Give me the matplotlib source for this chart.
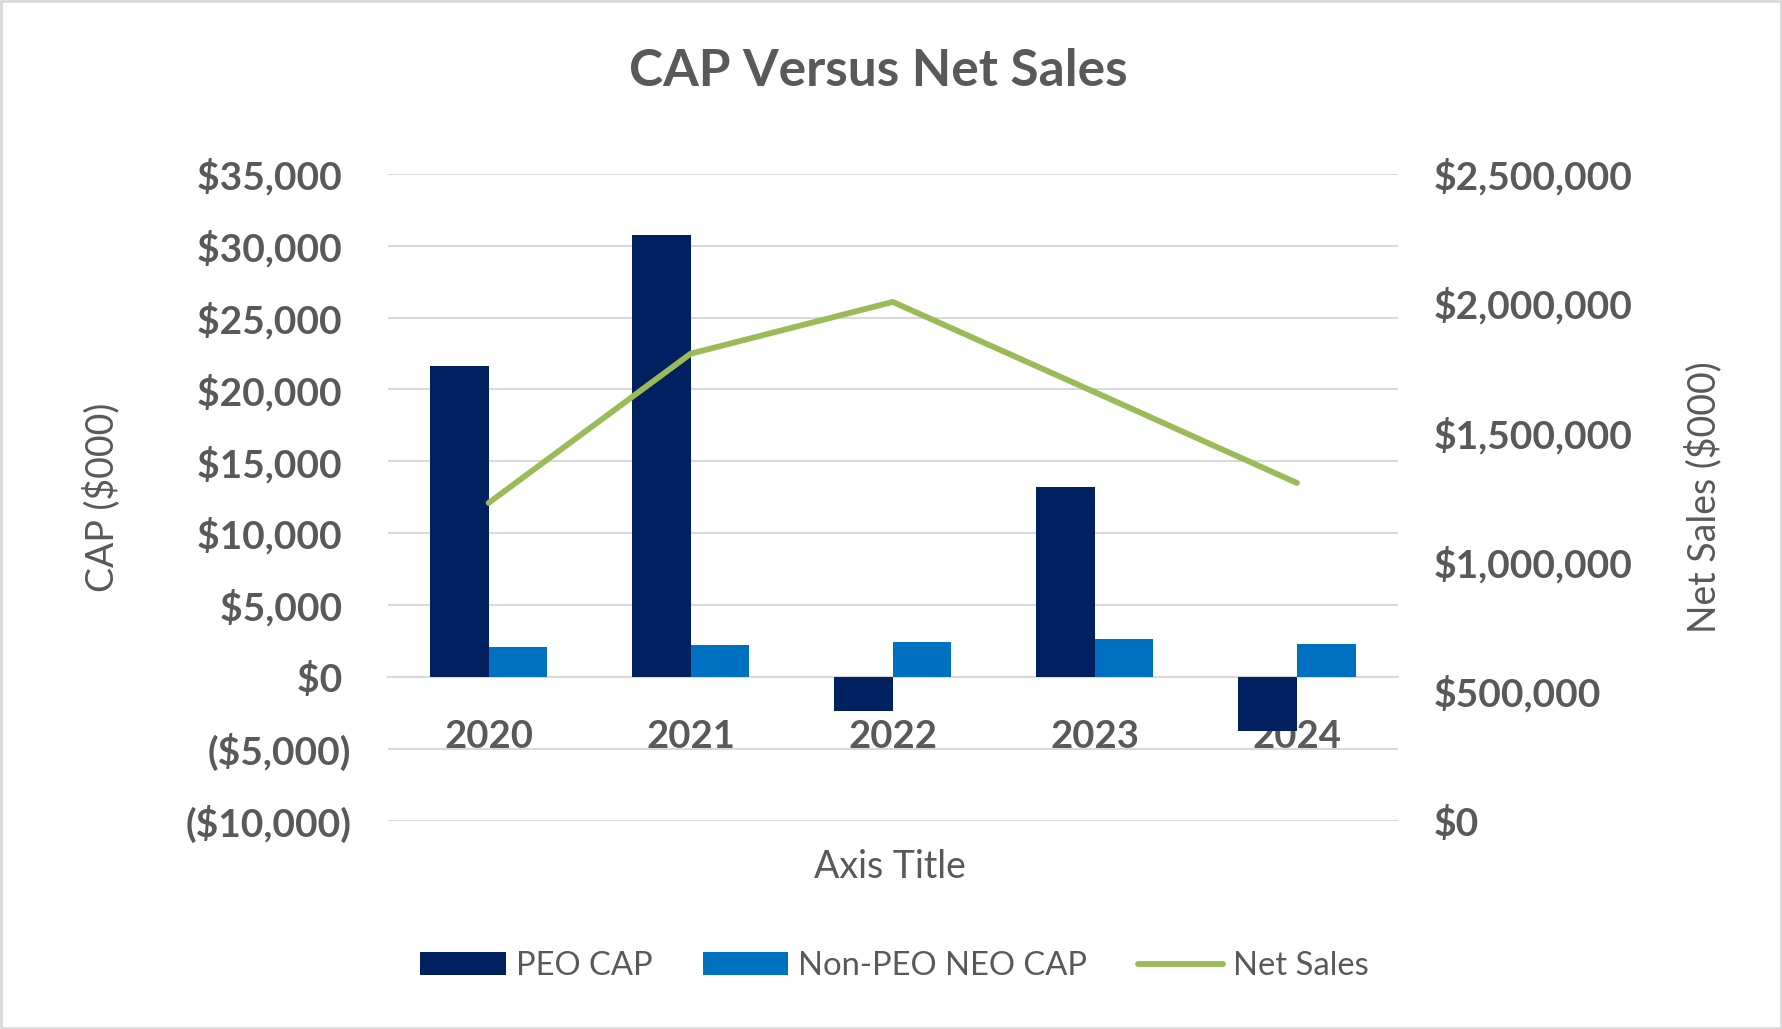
import numpy as np
import matplotlib.pyplot as plt
from matplotlib.patches import Rectangle
from matplotlib.ticker import FuncFormatter

# chart values ($000)
years = ['2020', '2021', '2022', '2023', '2024']
peo_cap = [21630, 30740, -2370, 13220, -3800]
non_peo_cap = [2080, 2210, 2440, 2650, 2300]
net_sales = [1228000, 1805000, 2005000, 1656000, 1305000]

left_ticks = [-10000, -5000, 0, 5000, 10000, 15000, 20000, 25000, 30000, 35000]
right_ticks = [0, 500000, 1000000, 1500000, 2000000, 2500000]

navy = '#002060'
blue = '#0070C0'
green = '#9BBB59'
text_col = '#595959'
grid_col = '#D9D9D9'

plt.rcParams['font.family'] = ['Lato', 'DejaVu Sans']


def money_left(v, pos):
    # excel accounting style: negatives in brackets, positives padded
    if v < 0:
        return f"(${abs(v):,.0f})"
    return f"${v:,.0f} "


def money_right(v, pos):
    return f"${v:,.0f}"


fig = plt.figure(figsize=(17.82, 10.29), dpi=100)
ax = fig.add_axes([0.2175, 0.2026, 0.5670, 0.6284])
ax2 = ax.twinx()

x = np.arange(len(years))
w = 0.29
ax.bar(x - w / 2, peo_cap, width=w, color=navy, label='PEO CAP', zorder=3)
ax.bar(x + w / 2, non_peo_cap, width=w, color=blue, label='Non-PEO NEO CAP', zorder=3)
ax2.plot(x, net_sales, color=green, lw=4.2, solid_capstyle='round', label='Net Sales', zorder=4)

ax.set_xlim(-0.5, len(years) - 0.5)
ax.set_ylim(-10000, 35000)
ax2.set_ylim(0, 2500000)
ax.set_yticks(left_ticks)
ax2.set_yticks(right_ticks)
ax.yaxis.set_major_formatter(FuncFormatter(money_left))
ax2.yaxis.set_major_formatter(FuncFormatter(money_right))

ax.grid(axis='y', color=grid_col, lw=1.5, zorder=0)
ax.set_axisbelow(True)

# category axis sits at zero
ax.spines['bottom'].set_position(('data', 0))
ax.spines['bottom'].set_color(grid_col)
ax.spines['bottom'].set_linewidth(1.5)
for s in ['top', 'left', 'right']:
    ax.spines[s].set_visible(False)
for s in ax2.spines.values():
    s.set_visible(False)

ax.set_xticks(x)
ax.set_xticklabels(years)
ax.tick_params(axis='x', length=0, pad=31, labelsize=27.5, labelcolor=text_col)
ax.tick_params(axis='y', length=0, pad=26, labelsize=28, labelcolor=text_col)
ax2.tick_params(axis='y', length=0, pad=26, labelsize=28, labelcolor=text_col)
for lab in ax.get_xticklabels() + ax.get_yticklabels() + ax2.get_yticklabels():
    lab.set_fontweight('bold')

ax.set_zorder(ax2.get_zorder() - 1)
ax2.patch.set_visible(False)

fig.text(0.493, 0.931, 'CAP Versus Net Sales', ha='center', va='center',
         fontsize=37, fontweight='bold', color=text_col)
fig.text(0.057, 0.517, 'CAP ($000)', rotation=90, ha='center', va='center',
         fontsize=27, color=text_col)
fig.text(0.956, 0.517, 'Net Sales ($000)', rotation=90, ha='center', va='center',
         fontsize=27, color=text_col)
fig.text(0.4995, 0.157, 'Axis Title', ha='center', va='center',
         fontsize=27, color=text_col)

h1, l1 = ax.get_legend_handles_labels()
h2, l2 = ax2.get_legend_handles_labels()
leg = fig.legend(h1 + h2, l1 + l2, loc='center', bbox_to_anchor=(0.502, 0.061),
                 ncol=3, frameon=False, fontsize=23.6, handlelength=2.6,
                 handleheight=0.7, handletextpad=0.3, columnspacing=1.55)
for t in leg.get_texts():
    t.set_color(text_col)

# chart border
fig.patches.append(Rectangle((0.0005, 0.001), 0.999, 0.998, transform=fig.transFigure,
                             fill=False, edgecolor=grid_col, lw=2))

fig.savefig('out.png', dpi=100, facecolor='white')
